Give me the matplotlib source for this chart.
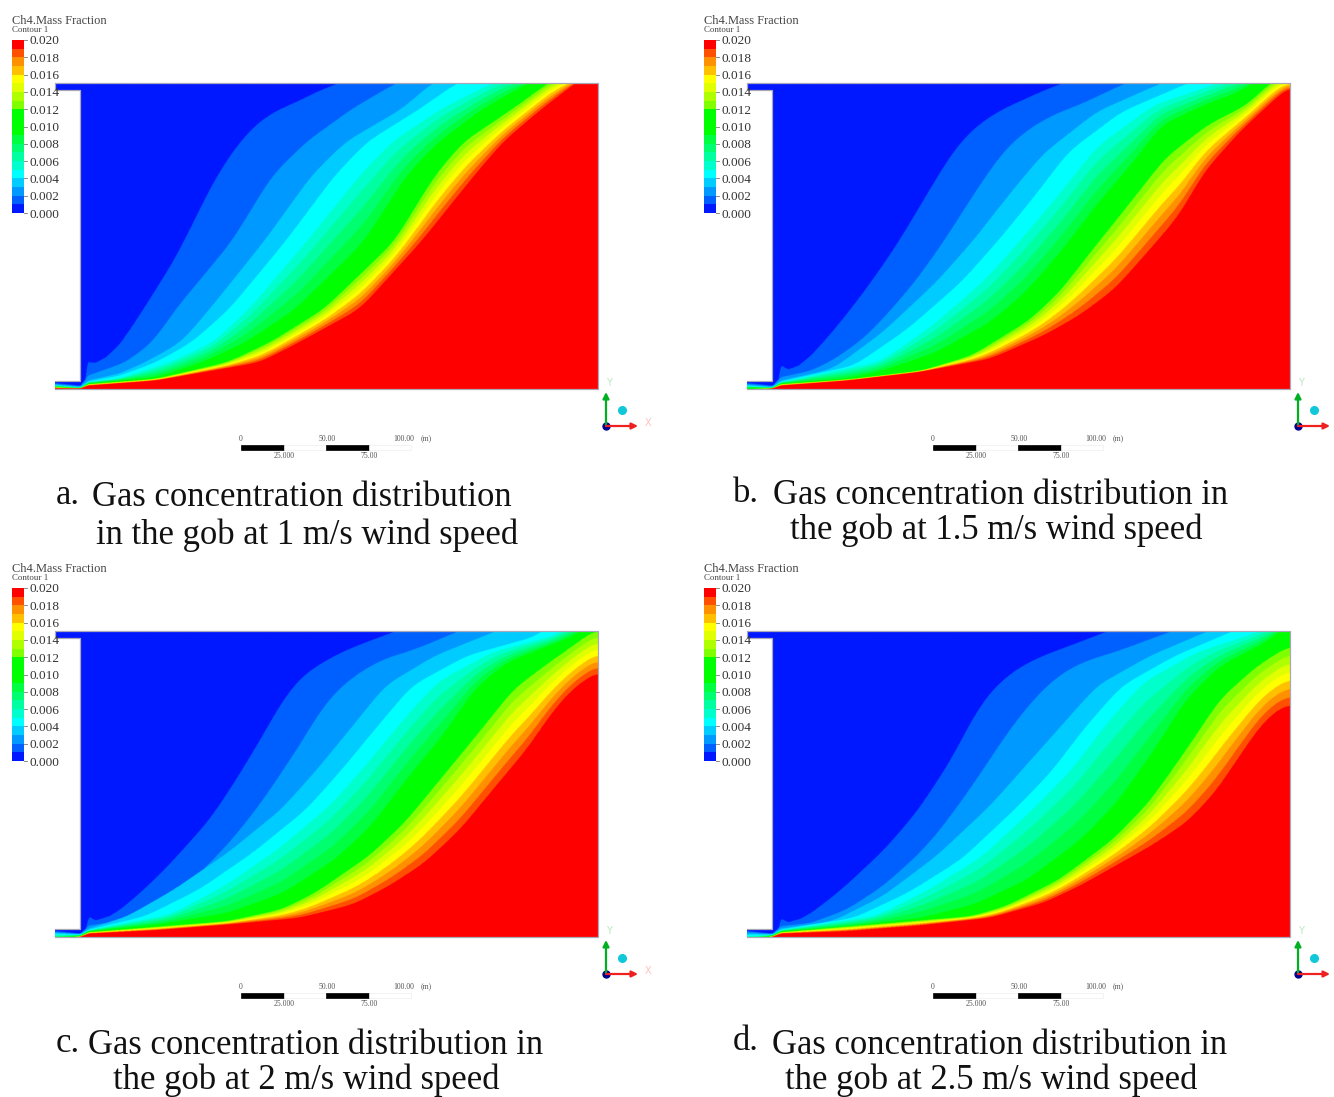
import numpy as np
import matplotlib
matplotlib.use("Agg")
import matplotlib.pyplot as plt
from matplotlib.colors import ListedColormap, BoundaryNorm
from matplotlib.patches import Rectangle

plt.rcParams['font.family'] = ['Liberation Serif', 'DejaVu Serif']

# legend cells, bottom to top
band_colors = ['#0018ff', '#0060ff', '#0099ff', '#00ccff', '#00ffff', '#00ffcc', '#00ffa0', '#00ff70',
               '#00ff40', '#00ff00', '#00ff00', '#00ff00', '#80ff00', '#b0ff00', '#e0ff00', '#ffff00',
               '#ffc000', '#ff9000', '#ff5000', '#ff0000']
legend_labels = ['0.000', '0.002', '0.004', '0.006', '0.008', '0.010', '0.012', '0.014', '0.016', '0.018', '0.020']

# mass fraction of each contour
contour_levels = [0.001, 0.002, 0.003, 0.004, 0.005, 0.009, 0.012, 0.019]

a_contours = [
    [(15, 922), (87, 930), (100, 925), (108, 860), (130, 862), (160, 845), (200, 805), (250, 725), (300, 640), (350, 555), (400, 450), (450, 340), (500, 250), (550, 180), (600, 130), (650, 100), (700, 78), (750, 50), (810, 25), (860, 5)],
    [(15, 925), (87, 932), (110, 900), (215, 860), (290, 800), (355, 700), (510, 500), (625, 300), (720, 200), (850, 100), (970, 25), (1020, 5)],
    [(15, 927), (87, 934), (110, 915), (200, 893), (270, 860), (370, 800), (450, 700), (600, 500), (735, 300), (830, 200), (990, 100), (1070, 25), (1120, 5)],
    [(15, 929), (87, 935), (110, 918), (200, 900), (300, 860), (400, 800), (505, 700), (660, 500), (800, 300), (890, 200), (1040, 100), (1140, 25), (1190, 5)],
    [(15, 930), (87, 936), (110, 920), (200, 908), (340, 860), (460, 800), (560, 700), (720, 500), (870, 300), (960, 200), (1100, 100), (1240, 25), (1290, 5)],
    [(15, 933), (87, 937), (110, 923), (300, 905), (430, 860), (550, 800), (690, 700), (880, 500), (1000, 300), (1090, 200), (1215, 100), (1340, 25), (1380, 5)],
    [(15, 935), (87, 938), (110, 926), (300, 910), (500, 860), (620, 800), (770, 700), (965, 500), (1080, 300), (1160, 200), (1300, 100), (1395, 25), (1430, 5)],
    [(15, 938), (87, 939), (110, 930), (300, 915), (590, 860), (700, 800), (870, 700), (1040, 500), (1190, 300), (1270, 200), (1380, 100), (1472, 25), (1500, 5)],
]
b_contours = [
    [(18, 922), (90, 930), (105, 925), (115, 870), (135, 882), (165, 870), (200, 840), (250, 780), (300, 715), (350, 645), (400, 570), (450, 490), (500, 400), (550, 310), (600, 225), (650, 165), (700, 125), (750, 95), (800, 72), (850, 47), (905, 25), (950, 5)],
    [(18, 925), (90, 932), (115, 905), (200, 885), (250, 860), (300, 825), (350, 785), (400, 730), (450, 670), (500, 605), (550, 530), (600, 450), (650, 365), (700, 285), (750, 215), (800, 170), (850, 135), (900, 110), (950, 90), (1000, 65), (1080, 25), (1130, 5)],
    [(18, 928), (90, 934), (115, 915), (260, 880), (400, 770), (550, 620), (650, 500), (760, 350), (850, 235), (1000, 110), (1180, 25), (1230, 5)],
    [(18, 930), (90, 935), (115, 918), (320, 870), (470, 760), (620, 620), (720, 500), (820, 370), (920, 230), (1070, 110), (1255, 25), (1300, 5)],
    [(18, 932), (90, 936), (115, 920), (390, 860), (540, 750), (690, 610), (790, 490), (900, 350), (1000, 215), (1160, 90), (1340, 25), (1380, 5)],
    [(18, 936), (90, 937), (115, 923), (300, 908), (400, 885), (550, 830), (700, 740), (800, 650), (905, 520), (1005, 380), (1110, 250), (1180, 150), (1300, 90), (1400, 50), (1435, 25), (1470, 5)],
    [(18, 941), (90, 938), (115, 926), (300, 912), (510, 885), (650, 840), (810, 735), (895, 650), (990, 520), (1095, 380), (1190, 250), (1310, 150), (1420, 90), (1480, 30), (1510, 5)],
    [(18, 946), (90, 939), (115, 930), (300, 915), (500, 890), (700, 850), (850, 780), (950, 720), (1050, 640), (1150, 520), (1230, 420), (1300, 290), (1400, 170), (1480, 90), (1538, 35)],
]
c_contours = [
    [(15, 924), (87, 932), (100, 927), (112, 882), (130, 893), (170, 880), (200, 860), (250, 815), (300, 765), (350, 710), (400, 650), (450, 590), (500, 510), (550, 425), (600, 335), (650, 240), (700, 170), (750, 130), (800, 100), (850, 75), (900, 55), (975, 25), (1030, 5)],
    [(15, 927), (87, 933), (112, 908), (200, 895), (300, 855), (400, 775), (500, 665), (550, 600), (600, 530), (650, 450), (700, 370), (750, 280), (800, 210), (850, 165), (900, 130), (950, 105), (1000, 90), (1050, 70), (1150, 25), (1200, 5)],
    [(15, 930), (87, 934), (112, 917), (220, 880), (350, 800), (500, 690), (650, 560), (750, 440), (850, 310), (940, 190), (1080, 100), (1255, 25), (1300, 5)],
    [(15, 933), (87, 935), (112, 920), (270, 880), (420, 800), (570, 690), (720, 560), (820, 440), (920, 310), (1015, 190), (1170, 100), (1370, 40), (1400, 5)],
    [(15, 936), (87, 936), (112, 922), (340, 875), (490, 790), (640, 680), (785, 550), (885, 430), (985, 300), (1085, 180), (1240, 90), (1430, 35), (1460, 5)],
    [(15, 945), (87, 938), (112, 925), (300, 905), (500, 870), (655, 810), (800, 710), (900, 610), (1000, 470), (1100, 340), (1190, 200), (1280, 120), (1470, 40), (1490, 25), (1510, 5)],
    [(15, 950), (87, 940), (112, 928), (500, 895), (650, 860), (745, 810), (895, 700), (995, 600), (1095, 470), (1195, 340), (1300, 200), (1400, 120), (1500, 45), (1520, 25)],
    [(15, 960), (87, 942), (112, 932), (300, 922), (500, 905), (700, 885), (850, 845), (950, 790), (1050, 720), (1150, 620), (1250, 490), (1340, 375), (1400, 280), (1450, 215), (1500, 170), (1535, 150)],
]
d_contours = [
    [(18, 924), (90, 932), (105, 927), (115, 888), (135, 898), (170, 888), (200, 870), (250, 830), (300, 785), (350, 735), (400, 685), (450, 625), (500, 560), (550, 480), (600, 395), (650, 290), (700, 210), (750, 160), (800, 125), (850, 100), (900, 80), (950, 60), (1035, 25), (1090, 5)],
    [(18, 927), (90, 933), (115, 910), (200, 900), (300, 860), (400, 790), (500, 695), (550, 635), (600, 565), (650, 490), (700, 410), (750, 330), (800, 260), (850, 200), (900, 155), (950, 125), (1000, 105), (1050, 90), (1100, 70), (1215, 25), (1270, 5)],
    [(18, 932), (90, 934), (115, 917), (260, 895), (400, 820), (550, 700), (700, 550), (800, 430), (900, 310), (1000, 190), (1150, 100), (1315, 25), (1370, 5)],
    [(18, 935), (90, 935), (115, 920), (320, 885), (470, 810), (620, 710), (770, 560), (870, 450), (970, 310), (1070, 190), (1220, 100), (1385, 25), (1430, 5)],
    [(18, 940), (90, 936), (115, 922), (380, 880), (530, 800), (680, 700), (830, 550), (930, 440), (1030, 300), (1130, 180), (1280, 90), (1465, 25), (1500, 5)],
    [(18, 950), (90, 938), (115, 925), (300, 910), (505, 885), (655, 845), (805, 770), (955, 650), (1055, 540), (1155, 390), (1250, 230), (1345, 130), (1490, 50), (1510, 25), (1535, 5)],
    [(18, 955), (90, 940), (115, 928), (650, 880), (745, 850), (895, 770), (1045, 650), (1145, 540), (1245, 390), (1345, 230), (1450, 130), (1540, 70)],
    [(18, 965), (90, 942), (115, 932), (300, 925), (500, 908), (700, 885), (850, 840), (950, 790), (1050, 730), (1150, 670), (1250, 600), (1330, 510), (1400, 400), (1450, 320), (1500, 265), (1540, 245)],
]

# crop calibration per panel: left wall, right wall, top and bottom edge
a_crop = (87, 1535, 25, 940)
b_crop = (90, 1540, 25, 940)
c_crop = (87, 1535, 27, 942)
d_crop = (90, 1540, 27, 942)

captions = [
    ('a.', (56, 495), ('Gas concentration distribution', 92, 497), ('in the gob at 1 m/s wind speed', 96, 535)),
    ('b.', (733, 494), ('Gas concentration distribution in', 773, 496), ('the gob at 1.5 m/s wind speed', 790, 530)),
    ('c.', (56, 1043), ('Gas concentration distribution in', 88, 1045), ('the gob at 2 m/s wind speed', 113, 1080)),
    ('d.', (733, 1042), ('Gas concentration distribution in', 772, 1045), ('the gob at 2.5 m/s wind speed', 785, 1080)),
]

FIG_W, FIG_H = 1334, 1097
PX_PER_M = 1.7
GOB_W, GOB_H = 518 / PX_PER_M, 306 / PX_PER_M
STUB_W = 25 / PX_PER_M


def smooth(h, pad):
    kernel = np.ones(2 * pad + 1) / (2 * pad + 1)
    return np.convolve(np.pad(h, pad, mode='edge'), kernel, mode='valid')


# Concentration field from the contours, binned into the legend cells when drawn
def build_field(contours, crop):
    left, right, top, bottom = crop
    xs = np.linspace(-STUB_W, GOB_W, 1100)
    ys = np.linspace(0, GOB_H, 900)
    heights = []
    for pts in contours:
        px = (np.array([p[0] for p in pts], dtype=float) - left) / (right - left) * GOB_W
        py = (bottom - np.array([p[1] for p in pts], dtype=float)) / (bottom - top) * GOB_H
        raw = np.interp(xs, px, py)
        # keep the spike at the wall sharp, round off the rest
        wide = smooth(smooth(raw, 18), 18)
        blend = np.clip((xs - 15) / 15, 0, 1)
        heights.append(blend * wide + (1 - blend) * smooth(raw, 2))
    heights = np.array(heights)
    z = np.zeros((len(ys), len(xs)))
    for j in range(len(xs)):
        col = heights[::-1, j]
        col = np.maximum.accumulate(col + np.arange(len(col)) * 1e-4)
        z[:, j] = np.interp(ys, col, contour_levels[::-1], left=0.0195, right=0.0005)
    return xs, ys, z


def draw_panel(fig, bg, contours, crop, ox, oy, show_x):
    x0, y0 = ox + 55, oy + 83
    w, h = 543, 306
    ax = fig.add_axes([x0 / FIG_W, 1 - (y0 + h) / FIG_H, w / FIG_W, h / FIG_H])
    xs, ys, z = build_field(contours, crop)
    norm = BoundaryNorm(np.linspace(0, 0.02, 21), 20)
    ax.imshow(z, origin='lower', extent=(-STUB_W, GOB_W, 0, GOB_H), aspect='auto',
              cmap=ListedColormap(band_colors), norm=norm,
              interpolation='hanning', interpolation_stage='rgba')
    ax.set_xlim(-STUB_W, GOB_W)
    ax.set_ylim(0, GOB_H)
    ax.axis('off')

    # white area left of the gob between the two airways
    ax.add_patch(Rectangle((-STUB_W, 8 / PX_PER_M), STUB_W, (306 - 15) / PX_PER_M,
                           facecolor='white', edgecolor='none', zorder=3))
    # model outline
    wall_x = [-STUB_W, 0, 0, -STUB_W, -STUB_W, GOB_W, GOB_W, -STUB_W]
    wall_y = [8 / PX_PER_M, 8 / PX_PER_M, GOB_H - 7 / PX_PER_M, GOB_H - 7 / PX_PER_M, GOB_H, GOB_H, 0, 0]
    ax.plot(wall_x, wall_y, color='#a8a8b8', lw=0.9, zorder=4, clip_on=False)

    # legend
    cell = 173 / 20
    for i, c in enumerate(band_colors):
        bg.add_patch(Rectangle((ox + 12, oy + 213 - (i + 1) * cell), 12, cell, facecolor=c, edgecolor='none'))
    for i, lab in enumerate(legend_labels):
        y = oy + 213 - i * 2 * cell
        bg.text(ox + 30, y + 1.5, lab, fontsize=9.5, va='center', ha='left', color='#333333')
        bg.plot([ox + 24, ox + 27], [y, y], color='#777777', lw=0.6)
    bg.text(ox + 12, oy + 21, 'Ch4.Mass Fraction', fontsize=8.9, va='center', color='#444444')
    bg.text(ox + 12, oy + 30, 'Contour 1', fontsize=6.4, va='center', color='#444444')

    # scale bar
    for k, (x_s, fc) in enumerate(zip([241, 284, 326, 369], ['black', 'white', 'black', 'white'])):
        bg.add_patch(Rectangle((ox + x_s, oy + 445), 43 if k < 3 else 42, 5, facecolor=fc,
                               edgecolor='#eeeeee' if fc == 'white' else 'black', lw=0.5))
    for lab, x_s, y_s in [('0', 241, 439), ('50.00', 327, 439), ('100.00', 404, 439), ('(m)', 426, 439),
                          ('25.000', 284, 456), ('75.00', 369, 456)]:
        bg.text(ox + x_s, oy + y_s, lab, fontsize=5.6, ha='center', va='center', color='#555555')

    # axis triad
    tx, ty = ox + 606, oy + 426
    bg.annotate('', xy=(tx, ty - 34), xytext=(tx, ty), arrowprops=dict(arrowstyle='-|>', color='#00b020', lw=1.6, mutation_scale=9, shrinkA=0, shrinkB=0))
    bg.annotate('', xy=(tx + 32, ty), xytext=(tx, ty), arrowprops=dict(arrowstyle='-|>', color='#f02020', lw=1.6, mutation_scale=9, shrinkA=0, shrinkB=0))
    bg.plot([tx], [ty], 'o', color='#000090', ms=5)
    bg.plot([tx + 16], [ty - 16], 'o', color='#10c8d8', ms=5.5)
    bg.text(tx + 3, ty - 43, 'Y', fontsize=7, color='#b8e8c0', ha='center', va='center', family='DejaVu Sans')
    if show_x:
        bg.text(tx + 42, ty - 3, 'X', fontsize=7, color='#ffc0c0', ha='center', va='center', family='DejaVu Sans')


def main():
    fig = plt.figure(figsize=(FIG_W / 100, FIG_H / 100), dpi=100)
    bg = fig.add_axes([0, 0, 1, 1], zorder=10)
    bg.set_xlim(0, FIG_W)
    bg.set_ylim(FIG_H, 0)
    bg.axis('off')

    draw_panel(fig, bg, a_contours, a_crop, 0, 0, True)
    draw_panel(fig, bg, b_contours, b_crop, 692, 0, False)
    draw_panel(fig, bg, c_contours, c_crop, 0, 548, True)
    draw_panel(fig, bg, d_contours, d_crop, 692, 548, False)

    for tag, tag_pos, line1, line2 in captions:
        bg.text(tag_pos[0], tag_pos[1], tag, fontsize=24.9, va='center', ha='left', color='#111111')
        bg.text(line1[1], line1[2], line1[0], fontsize=24.9, va='center', ha='left', color='#111111')
        bg.text(line2[1], line2[2], line2[0], fontsize=24.9, va='center', ha='left', color='#111111')

    fig.savefig('out.png', dpi=100)
    plt.close(fig)


if __name__ == "__main__":
    main()
